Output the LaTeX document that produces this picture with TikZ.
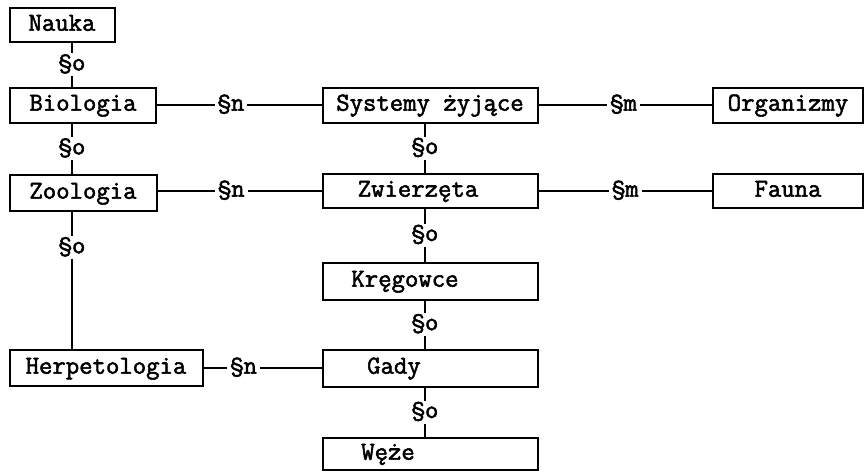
\documentclass[tikz,border=0pt]{standalone}
\usepackage{fontspec}
\setmonofont[AutoFakeBold=2]{Latin Modern Mono}
\begin{document}
\begin{tikzpicture}[x=0.5pt,y=-0.5pt,
  tw/.style={font=\ttfamily\bfseries\fontsize{13}{15}\selectfont},
  box/.style={draw, line width=1pt, inner sep=0pt, minimum height=17.5pt, tw, text height=7.2pt, text depth=1.5pt},
  txt/.style={inner sep=0pt, tw, text height=7.2pt, text depth=1.5pt},
  rel/.style={fill=white, inner sep=1.5pt, tw, text height=7.2pt, text depth=1.5pt},
  conn/.style={line width=1pt}]
\useasboundingbox (0,0) rectangle (865,472);
% left column
\node[box, minimum width=52.5pt, minimum height=17pt] (nauka) at (62,25) {Nauka};
\node[box, minimum width=73pt] (bio) at (83,105) {Biologia};
\node[box, minimum width=73.5pt, minimum height=18pt] (zoo) at (83,193) {Zoologia};
\node[box, minimum width=96.5pt, minimum height=18pt] (herp) at (106,368) {Herpetologia};
% middle column
\node[box, minimum width=107.5pt] (sys) at (430,105) {Systemy żyjące};
\node[box, minimum width=107.5pt, minimum height=17pt, label={[txt,xshift=-6pt]center:Zwierzęta}] (zwi) at (430,191) {};
\node[box, minimum width=107.5pt, minimum height=18.5pt, label={[txt,xshift=-12.5pt]center:Kręgowce}] (kre) at (430,281) {};
\node[box, minimum width=107.5pt, minimum height=18.5pt, label={[txt,xshift=-18pt]center:Gady}] (gady) at (430,368) {};
\node[box, minimum width=107.5pt, minimum height=16pt, label={[txt,xshift=-21pt]center:Węże}] (weze) at (430,454) {};
% right column
\node[box, minimum width=75pt] (org) at (788,105) {Organizmy};
\node[box, minimum width=75pt, minimum height=17pt] (fauna) at (788,191) {Fauna};
% column axes
\coordinate (colA) at (72,0);
\coordinate (colB) at (425,0);
% vertical connectors
\draw[conn] (nauka.south -| colA) -- node[rel] {§o} (bio.north -| colA);
\draw[conn] (bio.south -| colA) -- node[rel] {§o} (zoo.north -| colA);
\draw[conn] (zoo.south -| colA) -- node[rel, pos=0.26] {§o} (herp.north -| colA);
\draw[conn] (sys.south -| colB) -- node[rel] {§o} (zwi.north -| colB);
\draw[conn] (zwi.south -| colB) -- node[rel] {§o} (kre.north -| colB);
\draw[conn] (kre.south -| colB) -- node[rel] {§o} (gady.north -| colB);
\draw[conn] (gady.south -| colB) -- node[rel] {§o} (weze.north -| colB);
% horizontal connectors
\draw[conn] (bio.east) -- node[rel, pos=0.45] {§n} (sys.west);
\draw[conn] (zoo.east |- zwi.west) -- node[rel, pos=0.45] {§n} (zwi.west);
\draw[conn] (herp.east) -- node[rel, pos=0.34] {§n} (gady.west);
\draw[conn] (sys.east) -- node[rel, pos=0.49] {§m} (org.west);
\draw[conn] (zwi.east) -- node[rel, pos=0.5] {§m} (fauna.west);
\end{tikzpicture}
\end{document}
